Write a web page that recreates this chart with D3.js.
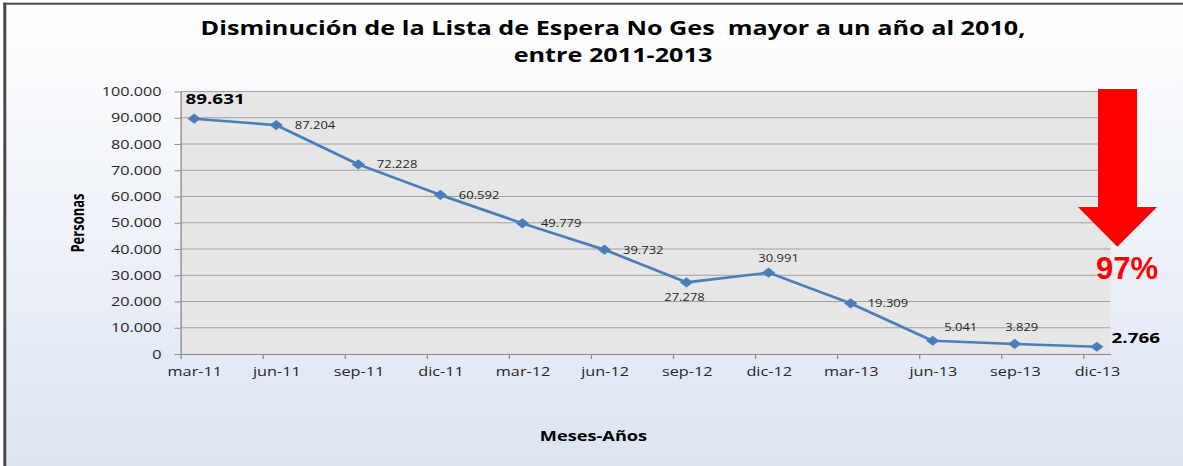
<!DOCTYPE html>
<html>
<head>
<meta charset="utf-8">
<script src="https://cdn.jsdelivr.net/npm/d3@7"></script>
<style>
    body { margin: 0; background: #fff; }
    svg { display: block; }
</style>
</head>
<body>
<div id="container"><svg></svg></div>
<script>
// data
let months = ['mar-11', 'jun-11', 'sep-11', 'dic-11', 'mar-12', 'jun-12',
              'sep-12', 'dic-12', 'mar-13', 'jun-13', 'sep-13', 'dic-13'];
let personas = [89631, 87204, 72228, 60592, 49779, 39732, 27278, 30991, 19309, 5041, 3829, 2766];
let yTicks = [0, 10000, 20000, 30000, 40000, 50000, 60000, 70000, 80000, 90000, 100000];
let titleLines = ['Disminución de la Lista de Espera No Ges  mayor a un año al 2010,', 'entre 2011-2013'];
let yTitle = 'Personas';
let xTitle = 'Meses-Años';
let reduction = '97%';

// label placement (real px): dx, dy, anchor, bold
let labelPos = [
    [-8.7, -15, 'start', true],
    [18.5, 4, 'start', false],
    [18.5, 4, 'start', false],
    [18.5, 4, 'start', false],
    [18.5, 4, 'start', false],
    [18.5, 4, 'start', false],
    [-2, 19, 'middle', false],
    [10, -11, 'middle', false],
    [17, 4, 'start', false],
    [28, -10, 'middle', false],
    [7, -13, 'middle', false],
    [14.7, -4, 'start', true]
];

let width = 1183;
let height = 466;
// the original chart is stretched sideways, so draw in a narrower space
let sx = 1.3;
let vw = width / sx;
let font = "'Open Sans', 'DejaVu Sans', sans-serif";

let fmt = d3.formatLocale({decimal: ',', thousands: '.', grouping: [3], currency: ['', '']}).format(',d');

function draw_main() {
    let svg = d3.select('#container').select('svg')
        .attr('width', width)
        .attr('height', height)
        .attr('viewBox', `0 0 ${vw} ${height}`)
        .attr('preserveAspectRatio', 'none')
        .style('font-family', font);

    let defs = svg.append('defs');
    let grad = defs.append('linearGradient')
        .attr('id', 'bg').attr('x1', 0).attr('y1', 0).attr('x2', 0).attr('y2', 1);
    grad.append('stop').attr('offset', '0%').attr('stop-color', '#ffffff');
    grad.append('stop').attr('offset', '100%').attr('stop-color', '#dce4f2');

    // background + frame
    svg.append('rect')
        .attr('x', 6 / sx).attr('y', 4.5)
        .attr('width', vw).attr('height', height)
        .attr('fill', 'url(#bg)');
    svg.append('rect')
        .attr('x', 3.3 / sx).attr('y', 2.7)
        .attr('width', 3 / sx).attr('height', height)
        .attr('fill', '#4a4a4a');
    svg.append('rect')
        .attr('x', 3.3 / sx).attr('y', 2.7)
        .attr('width', vw).attr('height', 2)
        .attr('fill', '#4a4a4a');

    let plot = {left: 180.5 / sx, right: 1110.5 / sx, top: 91.5, bottom: 354};

    // 34 monthly slots, mar-11 .. dic-13
    let x = d3.scaleLinear()
        .domain([0, 34])
        .range([plot.left, plot.right]);
    let y = d3.scaleLinear()
        .domain([0, 100000])
        .range([plot.bottom, plot.top]);
    let px = i => x(3 * i + 0.5);

    svg.append('rect')
        .attr('x', plot.left).attr('y', plot.top)
        .attr('width', plot.right - plot.left)
        .attr('height', plot.bottom - plot.top)
        .attr('fill', '#e6e6e6');

    // gridlines
    svg.append('g')
        .selectAll('line')
        .data(yTicks.filter(d => d > 0))
        .enter().append('line')
        .attr('x1', plot.left).attr('x2', plot.right)
        .attr('y1', d => y(d)).attr('y2', d => y(d))
        .attr('stroke', '#a0a0a0')
        .attr('stroke-width', 1);

    // y axis
    let axis_y = d3.axisLeft(y)
        .tickValues(yTicks)
        .tickSizeInner(6 / sx)
        .tickSizeOuter(0)
        .tickPadding(9.9)
        .tickFormat(d => fmt(d));
    let gy = svg.append('g')
        .attr('transform', `translate(${plot.left}, 0)`)
        .call(axis_y)
        .attr('font-family', font)
        .attr('font-size', 12.5);
    gy.select('.domain').attr('stroke', '#8c8c8c').attr('stroke-width', 1);
    gy.selectAll('.tick line').attr('stroke', '#8c8c8c');
    gy.selectAll('.tick text').attr('fill', '#262626');

    // x axis - tick marks every 3 months
    let axis_x = d3.axisBottom(x)
        .tickValues(d3.range(0, 34, 3))
        .tickSizeInner(5)
        .tickSizeOuter(0)
        .tickFormat('');
    let gx = svg.append('g')
        .attr('transform', `translate(0, ${plot.bottom})`)
        .call(axis_x);
    gx.select('.domain').attr('stroke', '#8c8c8c').attr('stroke-width', 1);
    gx.selectAll('.tick line').attr('stroke', '#8c8c8c');

    // x axis - labels centred on the points
    let axis_xl = d3.axisBottom(x)
        .tickValues(months.map((m, i) => 3 * i + 0.5))
        .tickSize(0)
        .tickPadding(13)
        .tickFormat((d, i) => months[i]);
    let gxl = svg.append('g')
        .attr('transform', `translate(0, ${plot.bottom})`)
        .call(axis_xl)
        .attr('font-family', font)
        .attr('font-size', 12.5);
    gxl.select('.domain').remove();
    gxl.selectAll('.tick text').attr('fill', '#262626');

    // line
    let line = d3.line()
        .x((d, i) => px(i))
        .y(d => y(d));
    svg.append('path')
        .datum(personas)
        .attr('d', line)
        .attr('fill', 'none')
        .attr('stroke', '#4a7ebb')
        .attr('stroke-width', 2.6)
        .attr('stroke-linejoin', 'round');

    // markers
    svg.append('g')
        .selectAll('path')
        .data(personas)
        .enter().append('path')
        .attr('d', d3.symbol(d3.symbolSquare, 52))
        .attr('transform', (d, i) => `translate(${px(i)}, ${y(d)}) rotate(45)`)
        .attr('fill', '#4a7ebb');

    // data labels
    svg.append('g')
        .selectAll('text')
        .data(personas)
        .enter().append('text')
        .attr('x', (d, i) => px(i) + labelPos[i][0] / sx)
        .attr('y', (d, i) => y(d) + labelPos[i][1])
        .attr('text-anchor', (d, i) => labelPos[i][2])
        .attr('font-size', (d, i) => labelPos[i][3] ? 14.5 : 10)
        .attr('font-weight', (d, i) => labelPos[i][3] ? 'bold' : 'normal')
        .attr('fill', (d, i) => labelPos[i][3] ? '#000' : '#262626')
        .text(d => fmt(d));

    // title
    svg.append('g')
        .selectAll('text')
        .data(titleLines)
        .enter().append('text')
        .attr('x', 613 / sx)
        .attr('y', (d, i) => 35 + i * 27)
        .attr('text-anchor', 'middle')
        .attr('font-size', 19.4)
        .attr('font-weight', 'bold')
        .attr('fill', '#000')
        .style('white-space', 'pre')
        .text(d => d);

    // axis titles
    svg.append('text')
        .attr('transform', `translate(${84 / sx}, 223) rotate(-90)`)
        .attr('text-anchor', 'middle')
        .attr('font-size', 13)
        .attr('font-weight', 'bold')
        .text(yTitle);
    svg.append('text')
        .attr('x', 593.5 / sx)
        .attr('y', 441)
        .attr('text-anchor', 'middle')
        .attr('font-size', 14)
        .attr('font-weight', 'bold')
        .text(xTitle);

    // red arrow
    let arrow = [[1098, 89], [1137, 89], [1137, 207], [1157, 207], [1117.3, 246.7], [1078, 207], [1098, 207]];
    svg.append('polygon')
        .attr('points', arrow.map(p => `${p[0] / sx},${p[1]}`).join(' '))
        .attr('fill', '#ff0000');
    svg.append('text')
        .attr('transform', `translate(${1127 / sx}, 279) scale(${1 / sx}, 1)`)
        .attr('text-anchor', 'middle')
        .attr('font-family', "'Liberation Sans', Arial, sans-serif")
        .attr('font-size', 31)
        .attr('font-weight', 'bold')
        .attr('fill', '#ff0000')
        .text(reduction);
}

draw_main();
</script>
</body>
</html>
